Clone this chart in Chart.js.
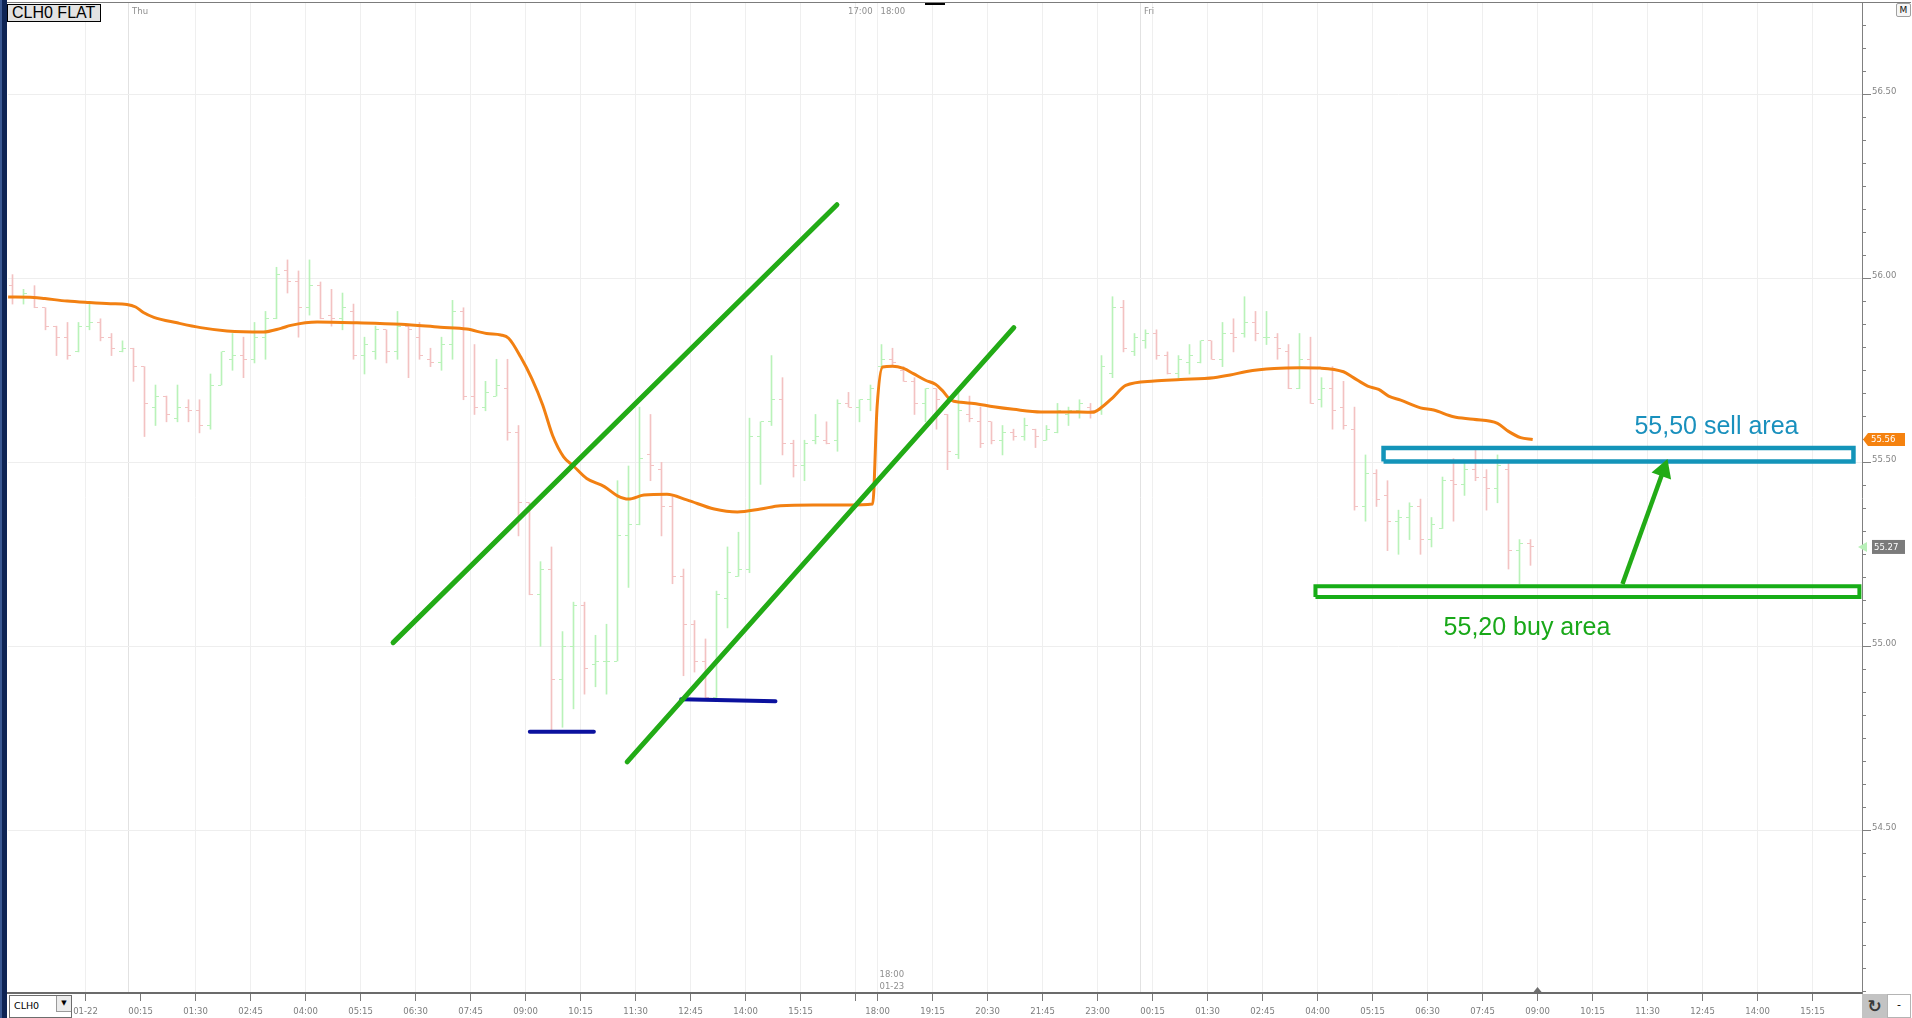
<!DOCTYPE html>
<html>
<head>
<meta charset="utf-8">
<script src="https://cdn.jsdelivr.net/npm/chart.js@4.4.0/dist/chart.umd.min.js"></script>
<style>
html,body{margin:0;padding:0;background:#fff;overflow:hidden;}
#wrap{position:relative;width:1912px;height:1018px;background:#fff;}
#c{position:absolute;left:0;top:0;}
#lb{position:absolute;left:0;top:0;width:7px;height:1018px;background:linear-gradient(to right,#3a5892 0,#3a5892 2px,#0e2454 2px,#0e2454 7px);}
#topline{position:absolute;left:7px;top:2px;width:1904px;height:1px;background:#7c7c7c;}
#thumb{position:absolute;left:925px;top:3px;width:20px;height:2px;background:#000;}
#sym{position:absolute;left:7px;top:4px;width:88px;height:16px;border:1px solid #000;background:#e2e2e2;font:16px/16px "Liberation Sans",Arial,sans-serif;color:#000;padding-left:4px;white-space:nowrap;}
#dd{position:absolute;left:9px;top:995px;width:61px;height:21px;border:1px solid #6d6d6d;background:#fff;font:9.5px/19px "DejaVu Sans",sans-serif;color:#000;}
#dd span.t{position:absolute;left:4px;top:0;}
#dd span.b{position:absolute;left:46px;top:0;width:14px;height:15px;border-left:1px solid #9a9a9a;border-bottom:1px solid #9a9a9a;background:#ececec;font-size:7px;line-height:15px;text-align:center;}
#rf{position:absolute;left:1862px;top:994px;width:25px;height:24px;background:#c3c3c3;font:bold 17px/24px "DejaVu Sans",sans-serif;color:#3a3a3a;text-align:center;}
#mn{position:absolute;left:1887px;top:994px;width:22px;height:22px;border:1px solid #b4b4b4;background:#fff;font:11px/20px "DejaVu Sans",sans-serif;text-align:center;color:#000;}
#mb{position:absolute;left:1896px;top:3px;width:13px;height:12px;border:1px solid #a0a0a0;border-radius:2px;background:#f6f6f6;font:9px/12px "DejaVu Sans",sans-serif;text-align:center;color:#111;}
</style>
</head>
<body>
<div id="wrap">
<canvas id="c" width="1912" height="1018"></canvas>
<div id="lb"></div>
<div id="topline"></div>
<div id="thumb"></div>
<div id="sym">CLH0 FLAT</div>
<div id="dd"><span class="t">CLH0</span><span class="b">&#9660;</span></div>
<div id="rf">&#8635;</div>
<div id="mn">-</div>
<div id="mb">M</div>
</div>
<script>
// ---------------- DATA (15-minute OHLC bars, index = bar number) ----------------
const opens = [
55.98,55.95,55.95,55.92,55.87,55.84,55.80,55.87,55.88,55.84,
55.80,55.81,55.76,55.65,55.68,55.62,55.65,55.64,55.60,55.71,
55.78,55.79,55.78,55.84,55.89,56.02,55.99,55.92,55.98,55.90,
55.89,55.91,55.79,55.80,55.86,55.80,55.87,55.84,55.78,55.77,
55.82,55.91,55.68,55.65,55.68,55.70,55.58,55.39,55.14,55.21,
54.91,55.00,55.11,54.95,54.96,54.96,55.30,55.33,55.52,55.48,
55.38,55.19,55.06,54.96,54.86,55.13,55.19,55.21,55.57,55.61,
55.67,55.55,55.49,55.56,55.56,55.56,55.66,55.65,55.67,55.76,
55.78,55.75,55.72,55.66,55.70,55.63,55.52,55.63,55.61,55.61,
55.56,55.58,55.57,55.59,55.56,55.58,55.63,55.64,55.65,55.64,
55.74,55.92,55.80,55.83,55.85,55.79,55.74,55.77,55.77,55.83,
55.78,55.85,55.85,55.88,55.84,55.84,55.80,55.70,55.78,55.67,
55.70,55.65,55.59,55.38,55.47,55.41,55.34,55.35,55.38,55.29,
55.32,55.45,55.44,55.48,55.46,55.43,55.48,55.26,55.28];
const highs = [
56.01,55.97,55.98,55.92,55.87,55.88,55.88,55.93,55.89,55.85,
55.83,55.81,55.76,55.71,55.68,55.71,55.67,55.67,55.74,55.80,
55.85,55.84,55.88,55.91,56.03,56.05,56.02,56.05,55.99,55.97,
55.96,55.93,55.84,55.87,55.86,55.91,55.87,55.88,55.81,55.84,
55.94,55.92,55.82,55.72,55.78,55.78,55.60,55.39,55.23,55.27,
55.04,55.12,55.12,55.03,55.06,55.45,55.49,55.65,55.63,55.50,
55.41,55.21,55.07,55.02,55.15,55.27,55.31,55.62,55.61,55.79,
55.73,55.56,55.56,55.63,55.61,55.67,55.69,55.67,55.71,55.82,
55.81,55.76,55.73,55.70,55.70,55.63,55.70,55.68,55.65,55.61,
55.60,55.59,55.62,55.59,55.60,55.66,55.65,55.67,55.66,55.79,
55.95,55.94,55.85,55.86,55.86,55.80,55.79,55.82,55.83,55.83,
55.88,55.89,55.95,55.91,55.91,55.85,55.82,55.85,55.84,55.73,
55.76,55.72,55.65,55.52,55.48,55.45,55.37,55.39,55.40,55.35,
55.46,55.51,55.50,55.54,55.48,55.52,55.50,55.29,55.29];
const lows = [
55.93,55.93,55.92,55.86,55.79,55.78,55.80,55.86,55.83,55.79,
55.80,55.72,55.57,55.60,55.61,55.61,55.61,55.58,55.59,55.71,
55.75,55.73,55.77,55.78,55.89,55.96,55.84,55.90,55.89,55.87,
55.86,55.78,55.74,55.78,55.77,55.78,55.73,55.78,55.76,55.75,
55.78,55.67,55.63,55.64,55.68,55.56,55.30,55.14,55.00,54.77,
54.78,54.83,54.87,54.89,54.87,54.96,55.16,55.33,55.45,55.30,
55.17,54.92,54.93,54.86,54.85,55.05,55.19,55.20,55.44,55.60,
55.52,55.46,55.45,55.55,55.55,55.53,55.65,55.61,55.64,55.75,
55.76,55.72,55.63,55.61,55.59,55.48,55.51,55.61,55.54,55.55,
55.52,55.56,55.56,55.54,55.56,55.58,55.60,55.62,55.62,55.63,
55.73,55.80,55.79,55.81,55.78,55.74,55.73,55.74,55.77,55.78,
55.76,55.80,55.84,55.83,55.82,55.78,55.70,55.70,55.66,55.65,
55.59,55.59,55.37,55.34,55.38,55.26,55.25,55.29,55.25,55.27,
55.32,55.34,55.41,55.45,55.37,55.39,55.21,55.17,55.22];
const closes = [
55.95,55.96,55.92,55.87,55.84,55.79,55.87,55.88,55.84,55.81,
55.81,55.76,55.66,55.68,55.63,55.65,55.64,55.60,55.71,55.80,
55.79,55.78,55.84,55.89,56.01,55.99,55.92,55.98,55.89,55.89,
55.92,55.79,55.82,55.86,55.80,55.87,55.86,55.79,55.77,55.82,
55.91,55.68,55.65,55.69,55.71,55.58,55.39,55.14,55.21,54.91,
55.00,55.11,54.94,54.96,54.96,55.30,55.33,55.51,55.49,55.38,
55.19,55.06,54.96,54.86,55.14,55.20,55.21,55.57,55.61,55.67,
55.55,55.49,55.55,55.57,55.55,55.66,55.65,55.67,55.70,55.78,
55.77,55.72,55.66,55.70,55.67,55.53,55.64,55.62,55.55,55.56,
55.58,55.57,55.60,55.57,55.59,55.64,55.64,55.66,55.64,55.76,
55.92,55.81,55.84,55.85,55.79,55.74,55.78,55.79,55.83,55.78,
55.85,55.84,55.88,55.85,55.84,55.81,55.70,55.78,55.66,55.70,
55.64,55.60,55.38,55.47,55.40,55.34,55.35,55.38,55.29,55.33,
55.45,55.44,55.48,55.46,55.43,55.49,55.26,55.28,55.27];

// moving-average line vertices (bar index, price)
const maX = [-0.4,1.94,2.94,4.97,6.97,8.9,10.4,11.2,11.9,12.85,14.97,17.1,19.5,22.8,24.4,25.3,27.7,31.3,35.3,38.9,41.3,43.1,44.4,45.1,46.2,47.2,48.2,49.1,50.1,51.0,52.2,53.8,55.0,56.0,57.4,59.5,61.3,63.8,65.9,68.0,69.8,72.8,75.9,78.2,78.6,79.1,80.0,81.0,81.9,83.0,83.9,84.5,85.3,86.2,87.4,89.2,91.0,93.5,95.9,98.2,98.9,100.1,101.2,103.8,106.2,109.2,110.7,112.2,114.7,117.1,118.9,121.0,121.9,123.2,124.2,125.1,126.2,128.0,129.2,131.0,132.8,135.0,136.0,137.1,138.2];
const maY = [55.949,55.948,55.945,55.938,55.934,55.931,55.929,55.922,55.907,55.894,55.879,55.866,55.857,55.854,55.864,55.872,55.881,55.879,55.875,55.867,55.862,55.850,55.846,55.837,55.786,55.728,55.656,55.573,55.515,55.490,55.456,55.434,55.409,55.400,55.411,55.413,55.398,55.373,55.365,55.373,55.382,55.384,55.384,55.387,55.651,55.759,55.761,55.755,55.741,55.723,55.712,55.696,55.669,55.663,55.660,55.651,55.644,55.637,55.637,55.636,55.647,55.678,55.709,55.721,55.725,55.730,55.737,55.747,55.755,55.757,55.756,55.746,55.730,55.707,55.698,55.680,55.669,55.648,55.642,55.624,55.617,55.606,55.584,55.567,55.562];

// drawn annotations (bar index, price)
const trend1X = [34.6, 74.95], trend1Y = [55.010, 56.200];
const trend2X = [55.88, 91.03], trend2Y = [54.686, 55.866];
const low1X = [47.03, 52.85], low1Y = [54.768, 54.768];
const low2X = [60.79, 69.36], low2Y = [54.856, 54.851];
const sellBoxX = [124.64, 167.36], sellBoxY = [55.502, 55.539];
const buyBoxX = [118.45, 167.9], buyBoxY = [55.134, 55.163];
const arrowX = [146.36, 150.08], arrowY = [55.169, 55.478];
const sellText = '55,50 sell area', sellTextAt = [147.45, 55.577];
const buyText = '55,20 buy area', buyTextAt = [130.1, 55.031];

// axis ticks
const xTickPos = [6.64,11.64,16.64,21.64,26.64,31.64,36.64,41.64,46.64,51.64,56.64,61.64,66.64,71.64,76.64,78.64,83.64,88.64,93.64,98.64,103.64,108.64,113.64,118.64,123.64,128.64,133.64,138.64,143.64,148.64,153.64,158.64,163.64];
const xTickLabels = ['01-22','00:15','01:30','02:45','04:00','05:15','06:30','07:45','09:00','10:15','11:30','12:45','14:00','15:15','','18:00','19:15','20:30','21:45','23:00','00:15','01:30','02:45','04:00','05:15','06:30','07:45','09:00','10:15','11:30','12:45','14:00','15:15'];
const hiddenGridTicks = [11.64];
const dayLinePos = [10.55, 102.55], dayLabels = ['Thu', 'Fri'];
const sessionBreak = 78.64, sessionTop = ['17:00', '18:00'], sessionBottom = ['18:00', '01-23'];
const nowPos = 138.64;
const yTickVals = [54.5, 55.0, 55.5, 56.0, 56.5];
const yTickLabels = ['54.50', '55.00', '55.50', '56.00', '56.50'];
const minorStep = 0.0625;

// ---------------- STYLE ----------------
const UP = '#b9f2b9', DOWN = '#f3c2c2';
const ORANGE = '#f28012', GREEN = '#22ab16', NAVY = '#0b119e', TEAL = '#1394b9', BOXGREEN = '#17ad17';
const FONT = '"DejaVu Sans", sans-serif';

function tickImg(color, side) {
  const cv = document.createElement('canvas');
  cv.width = 7; cv.height = 1;
  const g = cv.getContext('2d');
  g.fillStyle = color;
  if (side === 'L') g.fillRect(0, 0, 3, 1); else g.fillRect(4, 0, 3, 1);
  return cv;
}
const openUp = tickImg(UP, 'L'), openDn = tickImg(DOWN, 'L');
const closeUp = tickImg(UP, 'R'), closeDn = tickImg(DOWN, 'R');
const isUp = closes.map((c, i) => c >= opens[i]);

const xTicks = xTickPos.map((v, k) => ({ value: v, lab: xTickLabels[k], kind: 'time' }))
  .concat(dayLinePos.map(v => ({ value: v, lab: '', kind: 'day' })))
  .sort((a, b) => a.value - b.value);

const pts = (xa, ya) => xa.map((x, k) => ({ x: x, y: ya[k] }));
const boxPts = (bx, by) => [{x: bx[0], y: by[0]}, {x: bx[0], y: by[1]}, {x: bx[1], y: by[1]}, {x: bx[1], y: by[0]}, {x: bx[0], y: by[0]}];
const arrowAngle = 20;

const deco = {
  id: 'deco',
  afterDatasetsDraw(chart) {
    const c = chart.ctx, xs = chart.scales.x, ys = chart.scales.y;
    c.save();
    c.font = '25px "Liberation Sans", Arial, sans-serif';
    c.textBaseline = 'alphabetic';
    c.textAlign = 'left';
    c.fillStyle = '#1990bd';
    c.fillText(sellText, xs.getPixelForValue(sellTextAt[0]), ys.getPixelForValue(sellTextAt[1]));
    c.fillStyle = '#19a819';
    c.fillText(buyText, xs.getPixelForValue(buyTextAt[0]), ys.getPixelForValue(buyTextAt[1]));
    c.restore();
  },
  afterDraw(chart) {
    const c = chart.ctx, xs = chart.scales.x, ys = chart.scales.y, a = chart.chartArea;
    c.save();
    // minor price ticks
    c.strokeStyle = '#808080'; c.lineWidth = 1;
    for (let v = Math.ceil(ys.min / minorStep) * minorStep; v <= ys.max; v += minorStep) {
      if (Math.abs(v / 0.5 - Math.round(v / 0.5)) < 1e-6) continue;
      const y = Math.round(ys.getPixelForValue(v)) + 0.5;
      c.beginPath(); c.moveTo(a.right, y); c.lineTo(a.right + 4, y); c.stroke();
    }
    // top day / session labels
    c.font = '8.5px ' + FONT; c.fillStyle = '#8f8f8f'; c.textBaseline = 'middle';
    c.textAlign = 'left';
    dayLinePos.forEach((v, k) => c.fillText(dayLabels[k], xs.getPixelForValue(v) + 3.5, 12));
    const sx = xs.getPixelForValue(sessionBreak);
    c.textAlign = 'right'; c.fillText(sessionTop[0], sx - 5, 12);
    c.textAlign = 'left'; c.fillText(sessionTop[1], sx + 3, 12);
    c.fillText(sessionBottom[0], sx + 2, 975);
    c.fillText(sessionBottom[1], sx + 2, 987);
    // current-time marker
    const nx = xs.getPixelForValue(nowPos);
    c.fillStyle = '#6e6e6e';
    c.beginPath(); c.moveTo(nx - 4, a.bottom - 1); c.lineTo(nx + 4, a.bottom - 1); c.lineTo(nx, a.bottom - 6); c.closePath(); c.fill();
    // last MA value label (orange)
    const maLast = maY[maY.length - 1];
    let y = ys.getPixelForValue(maLast);
    c.fillStyle = '#f5820f';
    c.beginPath(); c.moveTo(a.right + 1, y); c.lineTo(a.right + 6, y - 6.5); c.lineTo(a.right + 43, y - 6.5); c.lineTo(a.right + 43, y + 6.5); c.lineTo(a.right + 6, y + 6.5); c.closePath(); c.fill();
    c.fillStyle = '#fff'; c.textAlign = 'left'; c.font = '8.5px ' + FONT;
    c.fillText(maLast.toFixed(2), a.right + 9, y + 0.5);
    // last close label (grey)
    const last = closes[closes.length - 1];
    y = ys.getPixelForValue(last);
    c.fillStyle = '#b9f0b9';
    c.beginPath(); c.moveTo(a.right - 4, y); c.lineTo(a.right + 5, y - 5); c.lineTo(a.right + 5, y + 5); c.closePath(); c.fill();
    c.fillStyle = '#7b7b7b';
    c.fillRect(a.right + 10, y - 7, 33, 14);
    c.fillStyle = '#fff';
    c.fillText(last.toFixed(2), a.right + 12, y + 0.5);
    c.restore();
  }
};

Chart.defaults.font.family = FONT;
new Chart(document.getElementById('c'), {
  type: 'bar',
  data: {
    datasets: [
      { type: 'bar', order: 10, data: lows.map((l, i) => ({ x: i, y: [l, highs[i]] })),
        backgroundColor: isUp.map(u => u ? UP : DOWN), borderWidth: 0, barThickness: 1 },
      { type: 'scatter', order: 9, data: opens.map((o, i) => ({ x: i, y: o })),
        pointStyle: isUp.map(u => u ? openUp : openDn), pointRadius: 3 },
      { type: 'scatter', order: 9, data: closes.map((o, i) => ({ x: i, y: o })),
        pointStyle: isUp.map(u => u ? closeUp : closeDn), pointRadius: 3 },
      { type: 'line', order: 5, data: pts(maX, maY), borderColor: ORANGE, borderWidth: 3,
        pointRadius: 0, cubicInterpolationMode: 'monotone', fill: false },
      { type: 'line', order: 2, data: pts(trend1X, trend1Y), borderColor: GREEN, borderWidth: 5, pointRadius: 0, borderCapStyle: 'round' },
      { type: 'line', order: 2, data: pts(trend2X, trend2Y), borderColor: GREEN, borderWidth: 5, pointRadius: 0, borderCapStyle: 'round' },
      { type: 'line', order: 2, data: pts(low1X, low1Y), borderColor: NAVY, borderWidth: 4, pointRadius: 0, borderCapStyle: 'round' },
      { type: 'line', order: 2, data: pts(low2X, low2Y), borderColor: NAVY, borderWidth: 4, pointRadius: 0, borderCapStyle: 'round' },
      { type: 'line', order: 1, data: boxPts(sellBoxX, sellBoxY), borderColor: TEAL, borderWidth: 4.5, pointRadius: 0, borderJoinStyle: 'miter', tension: 0 },
      { type: 'line', order: 1, data: boxPts(buyBoxX, buyBoxY), borderColor: BOXGREEN, borderWidth: 4, pointRadius: 0, borderJoinStyle: 'miter', tension: 0 },
      { type: 'line', order: 0, data: pts(arrowX, arrowY), borderColor: GREEN, borderWidth: 4.5, pointRadius: 0 },
      { type: 'scatter', order: 0, data: [{ x: arrowX[1], y: arrowY[1] }], pointStyle: 'triangle',
        pointRadius: 12, rotation: arrowAngle, backgroundColor: GREEN, borderColor: GREEN, borderWidth: 0 }
    ]
  },
  options: {
    responsive: false, maintainAspectRatio: false, animation: false, devicePixelRatio: 1,
    events: [],
    layout: { autoPadding: false, padding: { left: 8, top: 3, right: 0, bottom: 0 } },
    plugins: { legend: { display: false }, tooltip: { enabled: false } },
    scales: {
      x: {
        type: 'linear', position: 'bottom', min: -0.40909, max: 168.1364, offset: false, bounds: 'data',
        afterBuildTicks: s => { s.ticks = xTicks.map(t => Object.assign({}, t)); },
        afterFit: s => { s.height = 25; s.paddingLeft = 0; s.paddingRight = 0; },
        ticks: { autoSkip: false, maxRotation: 0, padding: 6, color: '#7d7d7d', font: { size: 8.5 },
          callback: (v, i, t) => t[i].lab },
        grid: { offset: false, tickLength: 8,
          color: ctx => (ctx.tick && ctx.tick.kind === 'day') ? '#e2e2e2' :
            (ctx.tick && hiddenGridTicks.includes(ctx.tick.value)) ? 'rgba(0,0,0,0)' : '#efefef',
          tickColor: ctx => (ctx.tick && ctx.tick.kind === 'day') ? 'rgba(0,0,0,0)' : '#7a7a7a' },
        border: { color: '#6b6b6b', width: 2 }
      },
      y: {
        type: 'linear', position: 'right', min: 54.0579, max: 56.7481, bounds: 'data',
        afterBuildTicks: s => { s.ticks = yTickVals.map(v => ({ value: v })); },
        afterFit: s => { s.width = 50; s.paddingTop = 0; s.paddingBottom = 0; },
        ticks: { autoSkip: false, padding: 1, labelOffset: -3, color: '#858585', font: { size: 8.5 },
          callback: (v, i) => yTickLabels[i] },
        grid: { color: '#eeeeee', tickLength: 9, tickColor: '#808080' },
        border: { color: '#808080', width: 1 }
      }
    }
  },
  plugins: [deco]
});
</script>
</body>
</html>
